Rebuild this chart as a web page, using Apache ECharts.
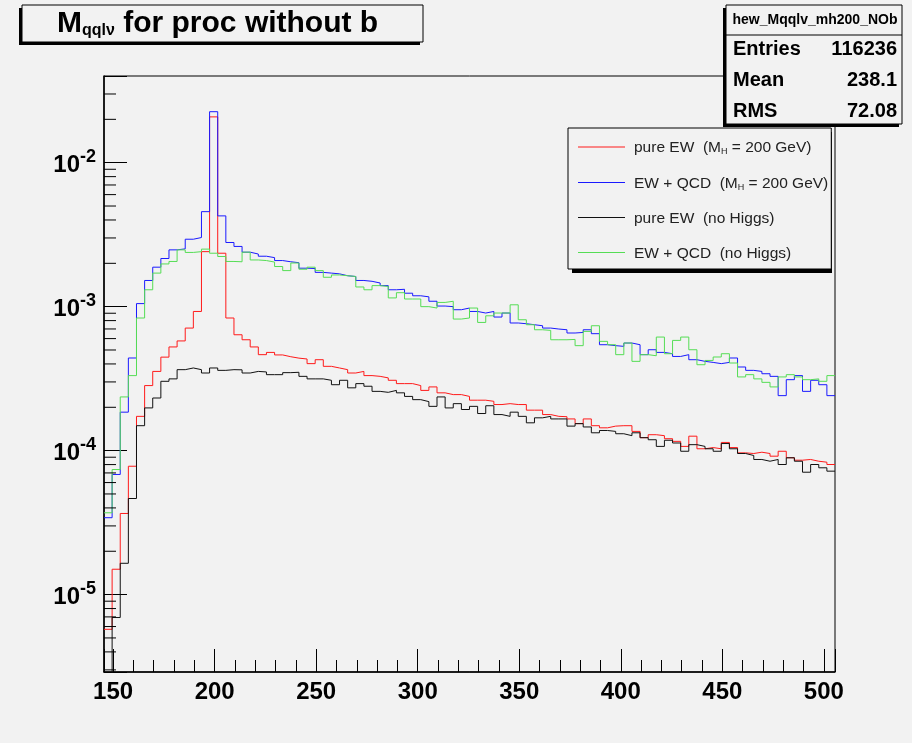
<!DOCTYPE html>
<html>
<head>
<meta charset="utf-8">
<script src="https://cdn.jsdelivr.net/npm/echarts@6/dist/echarts.min.js"></script>
<style>
  html, body { margin: 0; padding: 0; background: #f2f2f2; }
  #myChart { width: 912px; height: 743px; }
</style>
</head>
<body>
<div id="myChart"></div>
<script>
  // histogram binning: 90 bins of width 4 starting at 145.5
  const xLow = 145.5
  const xHigh = 505.5
  const binWidth = 4

  const seriesNames = [
    'pure EW  (M_H = 200 GeV)',
    'EW + QCD  (M_H = 200 GeV)',
    'pure EW  (no Higgs)',
    'EW + QCD  (no Higgs)'
  ]

  const pureEwHiggs = [
    5.74e-6, 1.50e-5, 3.66e-5, 7.79e-5, 1.73e-4, 2.83e-4, 3.55e-4, 4.46e-4, 5.25e-4, 5.78e-4,
    7.10e-4, 9.26e-4, 2.41e-3, 2.08e-2, 2.35e-3, 8.34e-4, 6.38e-4, 5.89e-4, 5.25e-4, 4.64e-4,
    4.81e-4, 4.62e-4, 4.49e-4, 4.39e-4, 4.33e-4, 4.02e-4, 4.28e-4, 3.85e-4, 3.75e-4, 3.65e-4,
    3.46e-4, 3.55e-4, 3.32e-4, 3.28e-4, 3.20e-4, 3.08e-4, 2.92e-4, 2.92e-4, 2.83e-4, 2.62e-4,
    2.77e-4, 2.52e-4, 2.45e-4, 2.45e-4, 2.38e-4, 2.24e-4, 2.24e-4, 2.20e-4, 2.09e-4, 2.12e-4,
    2.09e-4, 2.09e-4, 1.91e-4, 1.91e-4, 1.78e-4, 1.73e-4, 1.72e-4, 1.66e-4, 1.54e-4, 1.66e-4,
    1.49e-4, 1.44e-4, 1.48e-4, 1.49e-4, 1.49e-4, 1.36e-4, 1.23e-4, 1.29e-4, 1.27e-4, 1.21e-4,
    1.16e-4, 1.07e-4, 1.26e-4, 1.03e-4, 1.05e-4, 1.03e-4, 1.14e-4, 1.05e-4, 9.65e-5, 9.55e-5,
    9.75e-5, 9.55e-5, 9.15e-5, 9.90e-5, 8.92e-5, 8.58e-5, 8.68e-5, 8.44e-5, 8.31e-5, 8.01e-5
  ]

  const ewQcdHiggs = [
    3.42e-5, 6.83e-5, 1.85e-4, 4.40e-4, 1.05e-3, 1.52e-3, 1.88e-3, 2.16e-3, 2.48e-3, 2.52e-3,
    2.94e-3, 3.02e-3, 4.57e-3, 2.26e-2, 4.27e-3, 2.79e-3, 2.62e-3, 2.39e-3, 2.32e-3, 2.24e-3,
    2.19e-3, 2.09e-3, 2.05e-3, 2.02e-3, 1.85e-3, 1.84e-3, 1.73e-3, 1.71e-3, 1.69e-3, 1.64e-3,
    1.62e-3, 1.52e-3, 1.50e-3, 1.46e-3, 1.40e-3, 1.31e-3, 1.32e-3, 1.24e-3, 1.19e-3, 1.17e-3,
    1.09e-3, 1.01e-3, 1.00e-3, 9.52e-4, 9.78e-4, 9.26e-4, 9.03e-4, 9.26e-4, 8.47e-4, 9.03e-4,
    7.70e-4, 7.61e-4, 7.49e-4, 7.37e-4, 7.10e-4, 6.99e-4, 6.91e-4, 6.56e-4, 6.62e-4, 6.91e-4,
    6.49e-4, 5.44e-4, 5.36e-4, 5.30e-4, 5.59e-4, 5.44e-4, 4.64e-4, 5.02e-4, 4.81e-4, 4.71e-4,
    4.51e-4, 4.64e-4, 4.28e-4, 4.17e-4, 4.10e-4, 4.02e-4, 4.10e-4, 4.40e-4, 3.81e-4, 3.61e-4,
    3.55e-4, 3.42e-4, 3.28e-4, 2.41e-4, 3.11e-4, 3.32e-4, 2.58e-4, 3.08e-4, 2.87e-4, 2.41e-4
  ]

  const pureEwNoHiggs = [
    2.0e-6, 6.93e-6, 1.65e-5, 4.65e-5, 1.49e-4, 1.98e-4, 2.32e-4, 3.03e-4, 3.15e-4, 3.65e-4,
    3.75e-4, 3.65e-4, 3.46e-4, 3.75e-4, 3.61e-4, 3.65e-4, 3.64e-4, 3.46e-4, 3.55e-4, 3.52e-4,
    3.37e-4, 3.37e-4, 3.48e-4, 3.50e-4, 3.28e-4, 3.15e-4, 3.15e-4, 3.08e-4, 2.87e-4, 3.08e-4,
    2.73e-4, 2.92e-4, 2.80e-4, 2.58e-4, 2.54e-4, 2.62e-4, 2.52e-4, 2.38e-4, 2.26e-4, 2.19e-4,
    2.03e-4, 2.36e-4, 1.98e-4, 2.12e-4, 1.93e-4, 2.03e-4, 1.81e-4, 2.05e-4, 1.78e-4, 1.73e-4,
    1.85e-4, 1.73e-4, 1.56e-4, 1.69e-4, 1.73e-4, 1.66e-4, 1.66e-4, 1.48e-4, 1.54e-4, 1.46e-4,
    1.33e-4, 1.38e-4, 1.36e-4, 1.31e-4, 1.27e-4, 1.33e-4, 1.23e-4, 1.19e-4, 1.07e-4, 1.18e-4,
    1.13e-4, 9.90e-5, 1.10e-4, 1.07e-4, 1.03e-4, 9.90e-5, 1.12e-4, 1.03e-4, 9.55e-5, 9.25e-5,
    8.68e-5, 8.44e-5, 8.68e-5, 8.01e-5, 8.92e-5, 8.44e-5, 7.08e-5, 8.01e-5, 7.60e-5, 7.20e-5
  ]

  const ewQcdNoHiggs = [
    3.70e-5, 7.39e-5, 2.36e-4, 3.32e-4, 8.34e-4, 1.31e-3, 1.71e-3, 1.98e-3, 2.06e-3, 2.48e-3,
    2.38e-3, 2.41e-3, 2.51e-3, 2.35e-3, 2.23e-3, 2.06e-3, 2.05e-3, 2.39e-3, 2.11e-3, 2.09e-3,
    2.04e-3, 1.90e-3, 1.78e-3, 2.01e-3, 1.82e-3, 1.88e-3, 1.78e-3, 1.60e-3, 1.66e-3, 1.64e-3,
    1.62e-3, 1.37e-3, 1.31e-3, 1.40e-3, 1.38e-3, 1.15e-3, 1.25e-3, 1.13e-3, 1.13e-3, 1.00e-3,
    9.78e-4, 1.07e-3, 1.09e-3, 8.20e-4, 8.34e-4, 9.78e-4, 7.77e-4, 8.64e-4, 9.03e-4, 9.03e-4,
    1.03e-3, 8.11e-4, 7.49e-4, 6.91e-4, 6.84e-4, 5.89e-4, 5.89e-4, 5.92e-4, 5.36e-4, 6.73e-4,
    7.37e-4, 5.74e-4, 5.44e-4, 4.64e-4, 5.59e-4, 4.17e-4, 4.64e-4, 4.56e-4, 6.15e-4, 4.71e-4,
    5.83e-4, 6.15e-4, 5.02e-4, 3.95e-4, 4.23e-4, 4.47e-4, 4.71e-4, 4.06e-4, 3.25e-4, 3.37e-4,
    3.15e-4, 2.98e-4, 2.77e-4, 3.25e-4, 3.37e-4, 3.25e-4, 3.11e-4, 3.15e-4, 3.03e-4, 3.32e-4
  ]

  const seriesColors = ['#ff1a1a', '#1a1aff', '#111111', '#55dd55']

  // y axis range and minor (2..9 x 10^k) tick values
  const yMin = 2.9e-6
  const yMax = 0.04
  const yMinorTicks = [
    3e-6, 4e-6, 5e-6, 6e-6, 7e-6, 8e-6, 9e-6,
    2e-5, 3e-5, 4e-5, 5e-5, 6e-5, 7e-5, 8e-5, 9e-5,
    2e-4, 3e-4, 4e-4, 5e-4, 6e-4, 7e-4, 8e-4, 9e-4,
    2e-3, 3e-3, 4e-3, 5e-3, 6e-3, 7e-3, 8e-3, 9e-3,
    2e-2, 3e-2
  ]

  const font = "'Liberation Sans', Arial, Helvetica, sans-serif"

  // histogram outline: one point per lower bin edge, plus the closing upper edge
  function toSteps(vals) {
    const pts = vals.map((v, i) => [xLow + i * binWidth, v])
    pts.push([xHigh, vals[vals.length - 1]])
    return pts
  }

  const allValues = [pureEwHiggs, ewQcdHiggs, pureEwNoHiggs, ewQcdNoHiggs]

  let myChart = echarts.init(document.getElementById('myChart'))

  const lineSeries = seriesNames.map((name, k) => ({
    name: name,
    type: 'line',
    step: 'end',
    showSymbol: false,
    symbol: 'none',
    clip: true,
    data: toSteps(allValues[k]),
    color: seriesColors[k],
    itemStyle: { color: seriesColors[k] },
    lineStyle: { color: seriesColors[k], width: 1 },
    z: 2
  }))

  // legend sample lines, one per legend row
  const legendRowsY = [147, 182.5, 217.5, 252.5]
  const legendSamples = legendRowsY.map((y, k) => ({
    type: 'line',
    shape: { x1: 578, y1: y, x2: 625, y2: y },
    style: { stroke: seriesColors[k], lineWidth: 1 },
    z: 20
  }))

  myChart.setOption({
    animation: false,
    backgroundColor: '#f2f2f2',
    color: seriesColors,
    title: {
      text: '{m|M}{s|qqlν}{m| for proc without b}',
      left: 57,
      top: 7,
      padding: 0,
      z: 8,
      textStyle: {
        rich: {
          m: { fontSize: 30, fontWeight: 'bold', fontFamily: font, color: '#000', lineHeight: 34 },
          s: { fontSize: 16, fontWeight: 'bold', fontFamily: font, color: '#000', padding: [14, 0, 0, 0] }
        }
      }
    },
    legend: {
      data: seriesNames,
      icon: 'none',
      orient: 'vertical',
      left: 568,
      top: 128,
      padding: [12, 3, 7, 10],
      itemGap: 19,
      itemWidth: 47,
      itemHeight: 1,
      backgroundColor: '#f2f2f2',
      borderColor: '#000',
      borderWidth: 1,
      z: 6,
      formatter: name => name.replace('M_H', '{m|M}{h|H}'),
      textStyle: {
        fontSize: 15.5,
        fontFamily: font,
        color: '#222',
        lineHeight: 16,
        padding: [0, 0, 0, 4],
        rich: {
          m: { fontSize: 15.5, fontFamily: font, color: '#222' },
          h: { fontSize: 9, fontFamily: font, color: '#222', padding: [8, 0, 0, 0] }
        }
      }
    },
    grid: {
      left: 104,
      top: 76,
      width: 731,
      height: 596,
      show: true,
      backgroundColor: '#f2f2f2',
      borderColor: '#000',
      borderWidth: 1
    },
    xAxis: {
      type: 'value',
      min: xLow,
      max: xHigh,
      splitNumber: 7,
      minInterval: 50,
      maxInterval: 50,
      splitLine: { show: false },
      axisLine: { show: true, lineStyle: { color: '#000', width: 1.5 } },
      axisTick: { show: true, inside: true, length: 23, lineStyle: { color: '#000' } },
      minorTick: { show: true, splitNumber: 5, length: 12, lineStyle: { color: '#000' } },
      axisLabel: {
        margin: 8,
        fontSize: 24,
        fontWeight: 'bold',
        fontFamily: font,
        color: '#000',
        showMinLabel: true,
        showMaxLabel: true,
        formatter: v => (Math.abs(v % 50) < 1e-6 ? String(v) : '')
      }
    },
    yAxis: {
      type: 'log',
      logBase: 10,
      min: yMin,
      max: yMax,
      splitLine: { show: false },
      axisLine: { show: true, lineStyle: { color: '#000', width: 1.5 } },
      axisTick: { show: true, inside: true, length: 23, lineStyle: { color: '#000' } },
      axisLabel: {
        margin: 8,
        color: '#000',
        formatter: function (v) {
          const e = Math.log10(v)
          const r = Math.round(e)
          if (Math.abs(e - r) > 1e-6) return ''
          return '{b|10}{e|' + r + '}'
        },
        rich: {
          b: { fontSize: 24, fontWeight: 'bold', fontFamily: font, color: '#000', padding: [6, 0, 0, 0] },
          e: { fontSize: 18, fontWeight: 'bold', fontFamily: font, color: '#000', padding: [0, 0, 12, 0] }
        }
      }
    },
    series: lineSeries.concat([
      {
        // minor ticks of the log axis at 2..9 x 10^k
        type: 'custom',
        silent: true,
        clip: false,
        data: yMinorTicks.map(v => [xLow, v]),
        encode: { x: 0, y: 1 },
        renderItem: function (params, api) {
          const p = api.coord([api.value(0), api.value(1)])
          return {
            type: 'line',
            shape: { x1: p[0], y1: p[1], x2: p[0] + 12, y2: p[1] },
            style: { stroke: '#000', lineWidth: 1 }
          }
        },
        z: 4
      }
    ]),
    graphic: [
      // title pave with its shadow
      { type: 'rect', shape: { x: 19, y: 8, width: 401, height: 37 }, style: { fill: '#000' }, z: 5 },
      { type: 'rect', shape: { x: 22, y: 5, width: 401, height: 37 }, style: { fill: '#f2f2f2', stroke: '#000', lineWidth: 1 }, z: 6 },
      // legend shadow
      { type: 'rect', shape: { x: 572, y: 132, width: 260, height: 141 }, style: { fill: '#000' }, z: 3 },
      // stats box
      { type: 'rect', shape: { x: 723, y: 8, width: 176, height: 119 }, style: { fill: '#000' }, z: 10 },
      { type: 'rect', shape: { x: 726, y: 5, width: 176, height: 119 }, style: { fill: '#f2f2f2', stroke: '#000', lineWidth: 1 }, z: 11 },
      { type: 'line', shape: { x1: 726, y1: 35, x2: 902, y2: 35 }, style: { stroke: '#000', lineWidth: 1 }, z: 12 },
      { type: 'text', x: 815, y: 20, style: { text: 'hew_Mqqlv_mh200_NOb', font: 'bold 14px ' + font, fill: '#000', align: 'center', verticalAlign: 'middle' }, z: 12 },
      { type: 'text', x: 733, y: 49, style: { text: 'Entries', font: 'bold 20px ' + font, fill: '#000', verticalAlign: 'middle' }, z: 12 },
      { type: 'text', x: 897, y: 49, style: { text: '116236', font: 'bold 20px ' + font, fill: '#000', align: 'right', verticalAlign: 'middle' }, z: 12 },
      { type: 'text', x: 733, y: 80, style: { text: 'Mean', font: 'bold 20px ' + font, fill: '#000', verticalAlign: 'middle' }, z: 12 },
      { type: 'text', x: 897, y: 80, style: { text: '238.1', font: 'bold 20px ' + font, fill: '#000', align: 'right', verticalAlign: 'middle' }, z: 12 },
      { type: 'text', x: 733, y: 111, style: { text: 'RMS', font: 'bold 20px ' + font, fill: '#000', verticalAlign: 'middle' }, z: 12 },
      { type: 'text', x: 897, y: 111, style: { text: '72.08', font: 'bold 20px ' + font, fill: '#000', align: 'right', verticalAlign: 'middle' }, z: 12 }
    ].concat(legendSamples)
  })
</script>
</body>
</html>
